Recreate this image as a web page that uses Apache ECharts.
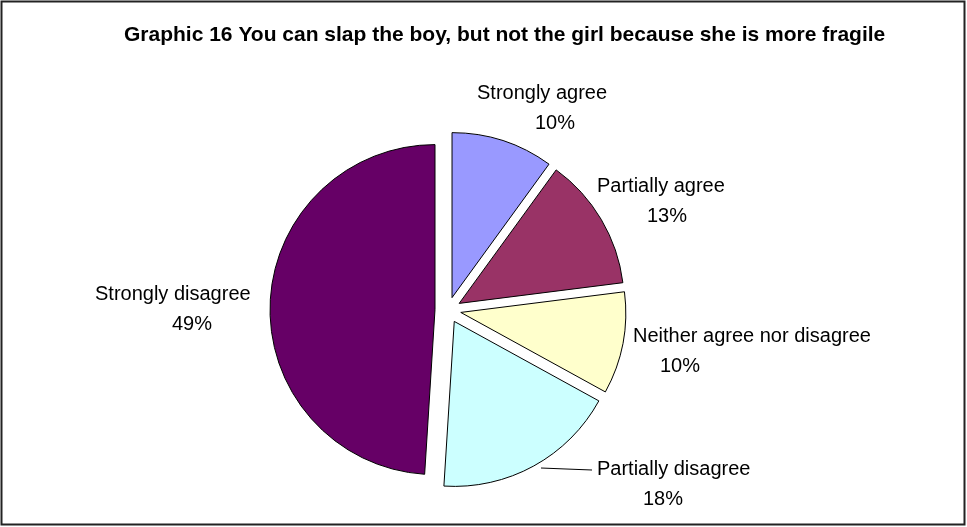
<!DOCTYPE html>
<html>
<head>
<meta charset="utf-8">
<script src="https://cdn.jsdelivr.net/npm/echarts@6/dist/echarts.min.js"></script>
<style>html,body{margin:0;padding:0;background:#fff}#c{width:967px;height:527px}</style>
</head>
<body>
<div id="c"></div>
<script>
const titleText = 'Graphic 16 You can slap the boy, but not the girl because she is more fragile';
const categories = ['Strongly agree', 'Partially agree', 'Neither agree nor disagree', 'Partially disagree', 'Strongly disagree'];
const values = [10, 13, 10, 18, 49];
const colors = ['#9999FF', '#993366', '#FFFFCC', '#CCFFFF', '#660066'];

// label layout (style): [left x, middle y, indent of percent line]
const labelSpots = [[477, 108, 58], [597, 201.5, 50], [633, 351.5, 27], [597, 484, 46], [95, 309.5, 77]];
const FONT = 'Liberation Sans, Arial, Helvetica, sans-serif';
const CENTER = [448, 310];
const RADIUS = 165;

const chart = echarts.init(document.getElementById('c'));
const richStyles = {a: {fontFamily: FONT, fontSize: 20, color: '#000', lineHeight: 30, align: 'left'}};
labelSpots.forEach((s, i) => {
  richStyles['p' + i] = {fontFamily: FONT, fontSize: 20, color: '#000', lineHeight: 30, align: 'left', padding: [0, 0, 0, s[2]]};
});

chart.setOption({
  animation: false,
  backgroundColor: '#fff',
  title: {
    text: titleText, left: 119, top: 20,
    textStyle: {fontFamily: FONT, fontSize: 21, fontWeight: 'bold', color: '#000'}
  },
  graphic: [{
    type: 'rect', shape: {x: 1.5, y: 1.5, width: 963, height: 523},
    style: {fill: 'none', stroke: '#222', lineWidth: 2}, silent: true
  }],
  series: [{
    // exploded slices
    type: 'pie',
    center: CENTER,
    radius: RADIUS,
    startAngle: 90,
    clockwise: true,
    selectedMode: 'multiple',
    selectedOffset: 13,
    silent: true,
    itemStyle: {borderColor: '#000', borderWidth: 1},
    emphasis: {disabled: true},
    label: {show: false},
    labelLine: {show: false},
    data: categories.map((c, i) => ({
      name: c, value: values[i], selected: true,
      itemStyle: {color: colors[i]},
      select: {itemStyle: {color: colors[i], borderColor: '#000', borderWidth: 1}}
    }))
  }, {
    // labels only
    type: 'pie',
    center: CENTER,
    radius: RADIUS,
    startAngle: 90,
    clockwise: true,
    silent: true,
    z: 3,
    avoidLabelOverlap: false,
    itemStyle: {color: 'rgba(0,0,0,0)', borderWidth: 0},
    emphasis: {disabled: true},
    label: {
      show: true,
      position: 'outside',
      fontFamily: FONT, fontSize: 20, color: '#000', lineHeight: 30,
      formatter: p => '{a|' + p.name + '}\n{p' + p.dataIndex + '|' + Math.round(p.percent) + '%}',
      rich: richStyles
    },
    labelLine: {show: false, lineStyle: {color: '#000', width: 1}},
    labelLayout: function (params) {
      const s = labelSpots[params.dataIndex];
      const r = {x: s[0], y: s[1], align: 'left', verticalAlign: 'middle'};
      if (params.dataIndex === 3) r.labelLinePoints = [[541, 468], [566, 469], [592, 470]];
      return r;
    },
    data: categories.map((c, i) => ({
      name: c, value: values[i],
      labelLine: {show: i === 3}
    }))
  }]
});
</script>
</body>
</html>
